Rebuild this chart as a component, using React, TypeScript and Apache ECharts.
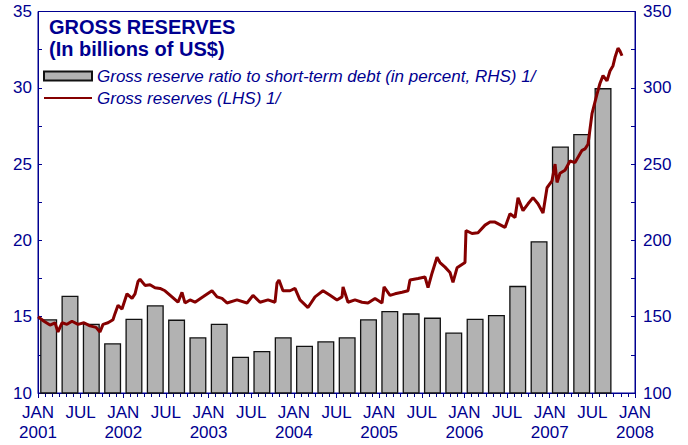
import React, { useEffect, useRef } from "react";
import * as echarts from "echarts";

// Quarterly gross reserve ratio to short-term debt (percent, RHS), Q1 2001 .. Q3 2007
const ratioQuarters = [
  "2001Q1", "2001Q2", "2001Q3", "2001Q4",
  "2002Q1", "2002Q2", "2002Q3", "2002Q4",
  "2003Q1", "2003Q2", "2003Q3", "2003Q4",
  "2004Q1", "2004Q2", "2004Q3", "2004Q4",
  "2005Q1", "2005Q2", "2005Q3", "2005Q4",
  "2006Q1", "2006Q2", "2006Q3", "2006Q4",
  "2007Q1", "2007Q2", "2007Q3",
];
const ratioValues = [
  148.3, 163.8, 145.4, 132.6,
  148.7, 157.5, 148.1, 136.5,
  145.4, 123.8, 127.5, 136.5,
  131.0, 133.9, 136.5, 148.3,
  153.8, 152.2, 149.4, 139.6,
  148.7, 151.1, 170.2, 199.5,
  261.5, 269.8, 299.8,
];

// Gross reserves (LHS, billions of US$): months elapsed since Jan 2001, and value
const reserveMonths = [
  0, 0.84, 1.69, 2.39, 2.81, 3.38, 4.08, 4.78, 5.63, 6.47, 7.32, 8.16, 8.72, 9.15, 9.85,
  10.55, 10.83, 11.26, 11.82, 12.52, 13.23, 13.65, 14.07, 14.35, 15.06, 15.76, 16.46,
  17.17, 17.87, 18.85, 19.7, 20.26, 20.68, 21.39, 22.09, 23.22, 24.48, 25.19, 25.89,
  26.59, 28.0, 29.41, 30.25, 31.24, 32.36, 33.35, 33.63, 33.91, 34.47, 35.46, 36.16,
  36.86, 37.99, 38.98, 40.1, 41.09, 42.07, 42.78, 42.92, 43.62, 44.6, 45.59, 46.43,
  47.42, 48.4, 48.69, 49.53, 50.23, 51.22, 52.06, 52.34, 53.47, 54.45, 54.88, 55.44,
  56.14, 56.56, 57.27, 57.97, 58.39, 58.96, 60.08, 60.22, 61.07, 61.91, 62.9, 63.6,
  64.3, 65.71, 66.41, 67.12, 67.54, 68.24, 68.95, 69.65, 70.35, 71.06, 71.62, 72.32,
  72.75, 73.03, 73.45, 74.15, 74.86, 75.56, 76.55, 76.97, 77.39, 77.95, 78.66, 79.08,
  79.5, 80.06, 80.48, 80.91, 81.19, 81.61, 81.89, 82.17,
];
const reserveValues = [
  15.0, 14.7, 14.45, 14.6, 14.0, 14.6, 14.5, 14.7, 14.5, 14.6, 14.4, 14.3, 14.0, 14.5, 14.6,
  14.8, 15.2, 15.75, 15.5, 16.5, 16.2, 16.5, 17.3, 17.45, 17.05, 17.1, 16.9,
  16.85, 16.7, 16.3, 15.95, 16.6, 15.9, 16.1, 15.95, 16.3, 16.7, 16.3, 16.2,
  15.9, 16.1, 15.9, 16.4, 15.95, 16.1, 15.95, 17.2, 17.4, 16.7, 16.7, 16.85,
  16.1, 15.6, 16.3, 16.7, 16.4, 16.1, 16.3, 16.95, 15.95, 16.1, 15.95, 15.9,
  16.2, 15.9, 16.95, 16.4, 16.5, 16.6, 16.7, 17.4, 17.5, 17.6, 16.9, 17.85,
  18.9, 18.55, 18.25, 17.9, 17.25, 18.2, 18.55, 20.65, 20.45, 20.5, 21.0, 21.2,
  21.2, 20.85, 21.75, 21.5, 22.8, 21.95, 22.4, 22.8, 22.4, 21.8, 23.45, 23.9,
  25.0, 23.8, 24.4, 24.6, 25.2, 25.1, 25.9, 26.0, 26.3, 28.3, 29.6, 30.3,
  30.8, 30.45, 31.1, 31.45, 32.0, 32.6, 32.4, 32.1,
];

const startYear = 2001;
const leftTicks = { min: 10, max: 35, interval: 5 };
const rightTicks = { min: 100, max: 350, interval: 50 };

const NAVY = "#000090";
const FONT = 'Arial, "Liberation Sans", sans-serif';
const BAR_NAME = "Gross reserve ratio to short-term debt (in percent, RHS) 1/";
const LINE_NAME = "Gross reserves (LHS) 1/";

export default function App() {
  const ref = useRef<HTMLDivElement>(null);
  useEffect(() => {
    if (!ref.current) return;
    const chart = echarts.init(ref.current, null, { renderer: "svg" });

    const barData = ratioQuarters.map((q, i) => {
      const year = parseInt(q.slice(0, 4), 10);
      const qi = parseInt(q.slice(5), 10) - 1;
      return [(year - startYear) * 12 + qi * 3 + 1.5, ratioValues[i]];
    });
    const lineData = reserveMonths.map((m, i) => [m, reserveValues[i]]);

    const axisLine = { show: true, lineStyle: { color: NAVY, width: 1 } };
    const axisLabel = { color: NAVY, fontFamily: FONT, fontSize: 17 };

    chart.setOption({
      animation: false,
      backgroundColor: "#ffffff",
      title: {
        text: "GROSS RESERVES\n(In billions of US$)",
        left: 49,
        top: 16,
        padding: 0,
        textStyle: {
          color: NAVY,
          fontFamily: FONT,
          fontSize: 20,
          fontWeight: "bold",
          lineHeight: 22,
        },
      },
      legend: {
        orient: "vertical",
        left: 43,
        top: 67,
        padding: 0,
        itemWidth: 48,
        itemHeight: 9,
        itemGap: 4,
        data: [
          { name: BAR_NAME, icon: "rect" },
          { name: LINE_NAME, icon: "path://M0,0 L48,0 L48,2 L0,2 Z" },
        ],
        textStyle: {
          color: NAVY,
          fontFamily: FONT,
          fontSize: 17,
          fontStyle: "italic",
          lineHeight: 18,
        },
      },
      grid: {
        left: 38,
        right: 53,
        top: 11.5,
        bottom: 52,
        show: true,
        borderColor: NAVY,
        borderWidth: 1,
        containLabel: false,
      },
      xAxis: {
        type: "value",
        min: 0,
        max: 84,
        interval: 6,
        axisLine,
        axisTick: { show: true, length: 5, lineStyle: { color: NAVY } },
        minorTick: { show: true, splitNumber: 6, length: 4, lineStyle: { color: NAVY } },
        splitLine: { show: false },
        axisLabel: {
          ...axisLabel,
          margin: 9,
          lineHeight: 20,
          formatter: (v: number) =>
            v % 12 === 0 ? `JAN\n${startYear + v / 12}` : "JUL",
        },
      },
      yAxis: [
        {
          type: "value",
          ...leftTicks,
          position: "left",
          axisLine,
          axisTick: { show: true, inside: true, length: 4, lineStyle: { color: NAVY } },
          minorTick: { show: true, splitNumber: 2, length: 4, lineStyle: { color: NAVY } },
          splitLine: { show: false },
          axisLabel: { ...axisLabel, margin: 6 },
        },
        {
          type: "value",
          ...rightTicks,
          position: "right",
          axisLine,
          axisTick: { show: true, inside: true, length: 4, lineStyle: { color: NAVY } },
          minorTick: { show: true, splitNumber: 2, length: 4, lineStyle: { color: NAVY } },
          splitLine: { show: false },
          axisLabel: { ...axisLabel, margin: 8 },
        },
      ],
      series: [
        {
          name: BAR_NAME,
          type: "bar",
          yAxisIndex: 1,
          barWidth: 17,
          data: barData,
          itemStyle: { color: "#b2b2b2", borderColor: "#111111", borderWidth: 1.3 },
          z: 2,
        },
        {
          name: LINE_NAME,
          type: "line",
          yAxisIndex: 0,
          symbol: "none",
          symbolKeepAspect: true,
          data: lineData,
          lineStyle: { color: "#850000", width: 3 },
          itemStyle: { color: "#850000" },
          z: 3,
        },
      ],
    });
    return () => chart.dispose();
  }, []);

  return <div ref={ref} style={{ width: 688, height: 445, position: "absolute", left: 0, top: 0 }} />;
}
